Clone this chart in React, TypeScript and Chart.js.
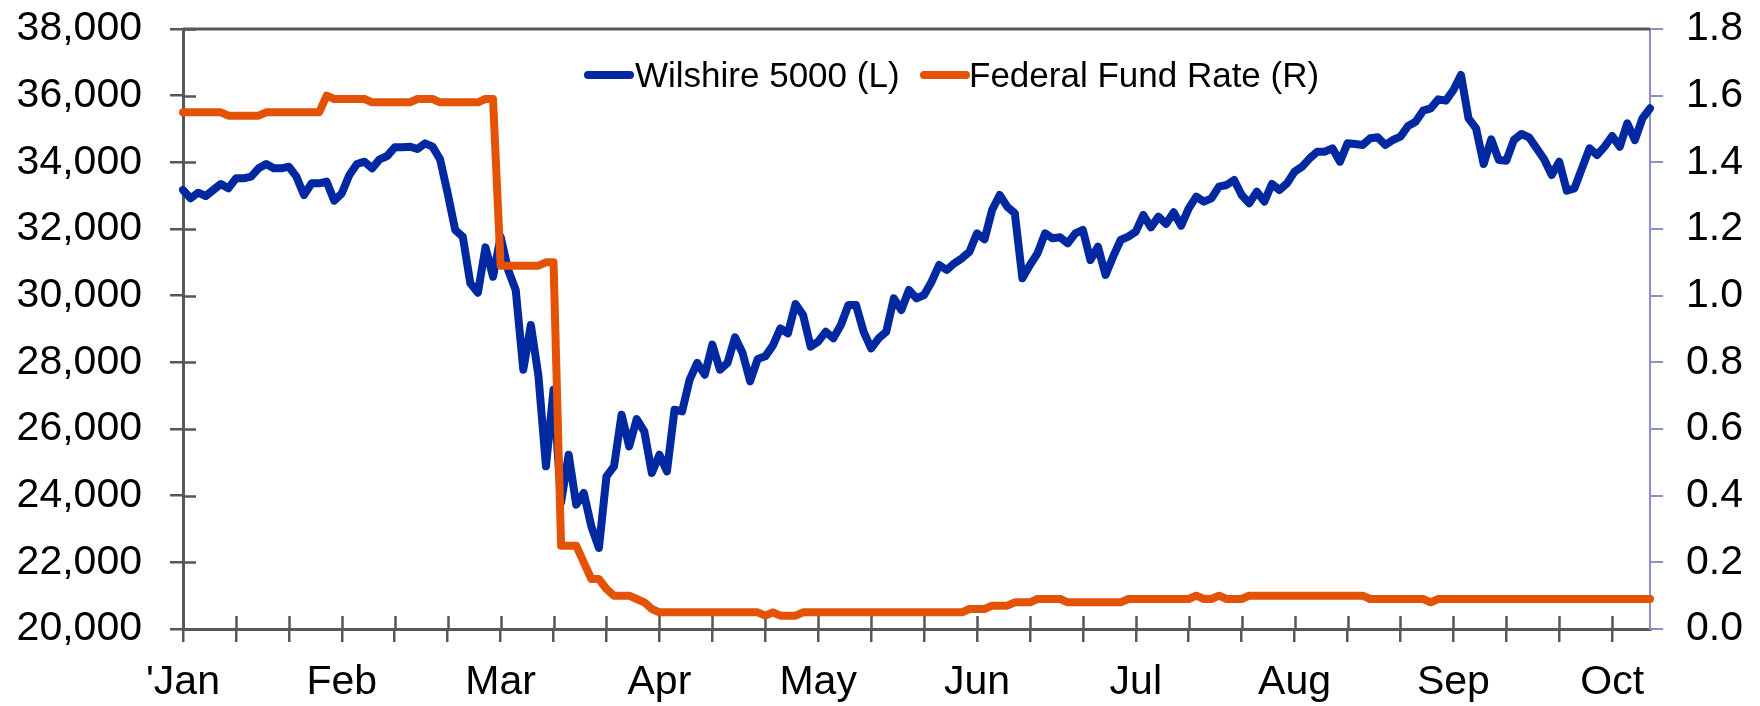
import React, { useEffect, useRef } from 'react';
import { Chart, registerables } from 'chart.js';

Chart.register(...registerables);

// Month labels shown every 21 trading days
const monthLabels = ["'Jan", 'Feb', 'Mar', 'Apr', 'May', 'Jun', 'Jul', 'Aug', 'Sep', 'Oct'];

// Wilshire 5000 (left axis), one value per trading day, Jan 2 .. Oct 9
const wilshire = [
  33170, 32920, 33090, 32990, 33170, 33350, 33220, 33520, 33520, 33570,
  33820, 33950, 33820, 33820, 33870, 33570, 33020, 33370, 33370, 33420,
  32850, 33070, 33620, 33950, 34020, 33820, 34090, 34190, 34450, 34450,
  34470, 34400, 34570, 34470, 34090, 33070, 31970, 31770, 30370, 30090,
  31450, 30570, 31770, 30770, 30170, 27780, 29120, 27600, 24880, 27180,
  23800, 25230, 23730, 24080, 23080, 22430, 24580, 24880, 26430, 25480,
  26300, 25930, 24680, 25230, 24730, 26580, 26530, 27480, 27980, 27630,
  28530, 27780, 27980, 28750, 28280, 27430, 28100, 28180, 28500, 29020,
  28870, 29750, 29420, 28470, 28620, 28920, 28720, 29120, 29720, 29720,
  28920, 28420, 28720, 28920, 29920, 29570, 30170, 29920, 30020, 30420,
  30920, 30770, 30970, 31120, 31320, 31870, 31690, 32570, 33020, 32670,
  32470, 30520, 30920, 31270, 31870, 31720, 31750, 31570, 31870, 31970,
  31070, 31470, 30620, 31170, 31670, 31770, 31920, 32420, 32050, 32370,
  32150, 32500, 32100, 32620, 32970, 32820, 32920, 33270, 33320, 33470,
  33020, 32770, 33120, 32820, 33350, 33170, 33370, 33720, 33870, 34120,
  34320, 34320, 34420, 34020, 34570, 34550, 34520, 34720, 34750, 34520,
  34670, 34770, 35090, 35220, 35550, 35620, 35890, 35850, 36170, 36620,
  35320, 35020, 33950, 34690, 34070, 34050, 34670, 34850, 34750, 34420,
  34090, 33620, 34020, 33150, 33220, 33820, 34420, 34220, 34470, 34790,
  34470, 35170, 34670, 35320, 35620,
];

// Federal Fund Rate (right axis), same trading days
const fedFundRate = [
  1.55, 1.55, 1.55, 1.55, 1.55, 1.55, 1.54, 1.54, 1.54, 1.54,
  1.54, 1.55, 1.55, 1.55, 1.55, 1.55, 1.55, 1.55, 1.55, 1.60,
  1.59, 1.59, 1.59, 1.59, 1.59, 1.58, 1.58, 1.58, 1.58, 1.58,
  1.58, 1.59, 1.59, 1.59, 1.58, 1.58, 1.58, 1.58, 1.58, 1.58,
  1.59, 1.59, 1.09, 1.09, 1.09, 1.09, 1.09, 1.09, 1.10, 1.10,
  0.25, 0.25, 0.25, 0.20, 0.15, 0.15, 0.12, 0.10, 0.10, 0.10,
  0.09, 0.08, 0.06, 0.05, 0.05, 0.05, 0.05, 0.05, 0.05, 0.05,
  0.05, 0.05, 0.05, 0.05, 0.05, 0.05, 0.05, 0.04, 0.05, 0.04,
  0.04, 0.04, 0.05, 0.05, 0.05, 0.05, 0.05, 0.05, 0.05, 0.05,
  0.05, 0.05, 0.05, 0.05, 0.05, 0.05, 0.05, 0.05, 0.05, 0.05,
  0.05, 0.05, 0.05, 0.05, 0.06, 0.06, 0.06, 0.07, 0.07, 0.07,
  0.08, 0.08, 0.08, 0.09, 0.09, 0.09, 0.09, 0.08, 0.08, 0.08,
  0.08, 0.08, 0.08, 0.08, 0.08, 0.09, 0.09, 0.09, 0.09, 0.09,
  0.09, 0.09, 0.09, 0.09, 0.10, 0.09, 0.09, 0.10, 0.09, 0.09,
  0.09, 0.10, 0.10, 0.10, 0.10, 0.10, 0.10, 0.10, 0.10, 0.10,
  0.10, 0.10, 0.10, 0.10, 0.10, 0.10, 0.10, 0.09, 0.09, 0.09,
  0.09, 0.09, 0.09, 0.09, 0.09, 0.08, 0.09, 0.09, 0.09, 0.09,
  0.09, 0.09, 0.09, 0.09, 0.09, 0.09, 0.09, 0.09, 0.09, 0.09,
  0.09, 0.09, 0.09, 0.09, 0.09, 0.09, 0.09, 0.09, 0.09, 0.09,
  0.09, 0.09, 0.09, 0.09, 0.09,
];

const seriesNames = ['Wilshire 5000 (L)', 'Federal Fund Rate (R)'];
const leftAxis = { min: 20000, max: 38000, step: 2000 };
const rightAxis = { min: 0, max: 1.8, step: 0.2 };

const BLUE = '#0029A1';
const ORANGE = '#E35205';
const AXIS = '#54585C';
const RIGHT_AXIS = '#8C8EC6';
const FONT = "'Liberation Sans', Arial, sans-serif";
const LINE_W = 8;

const TICK_EVERY = 7;
const LABEL_EVERY = 21;

const categories = wilshire.map((_, i) =>
  i % LABEL_EVERY === 0 && monthLabels[i / LABEL_EVERY] ? monthLabels[i / LABEL_EVERY] : ''
);

const axisDecor = {
  id: 'axisDecor',
  beforeDatasetsDraw(chart: any) {
    const { ctx, chartArea, scales } = chart;
    const x = scales.x;
    const y = scales.y;
    ctx.save();
    ctx.strokeStyle = AXIS;
    ctx.lineWidth = 2.5;
    ctx.beginPath();
    x.ticks.forEach((_t: any, i: number) => {
      if (i % TICK_EVERY === 0) {
        const px = Math.round(x.getPixelForTick(i)) + 0.5;
        ctx.moveTo(px, chartArea.bottom);
        ctx.lineTo(px, chartArea.bottom - 13);
      }
    });
    y.ticks.forEach((_t: any, i: number) => {
      const py = Math.round(y.getPixelForTick(i)) + 0.5;
      ctx.moveTo(chartArea.left, py);
      ctx.lineTo(chartArea.left + 13, py);
    });
    ctx.stroke();
    ctx.lineWidth = 3;
    ctx.beginPath();
    ctx.moveTo(chartArea.left, chartArea.top);
    ctx.lineTo(chartArea.right, chartArea.top);
    ctx.stroke();
    ctx.restore();
  },
};

export default function App() {
  const canvasRef = useRef<HTMLCanvasElement | null>(null);

  useEffect(() => {
    if (!canvasRef.current) return;
    const chart = new Chart(canvasRef.current, {
      type: 'line',
      data: {
        labels: categories,
        datasets: [
          {
            label: seriesNames[1],
            data: fedFundRate,
            yAxisID: 'y2',
            borderColor: ORANGE,
            backgroundColor: ORANGE,
            borderWidth: LINE_W,
          },
          {
            label: seriesNames[0],
            data: wilshire,
            yAxisID: 'y',
            borderColor: BLUE,
            backgroundColor: BLUE,
            borderWidth: LINE_W,
          },
        ],
      },
      options: {
        responsive: false,
        animation: false,
        layout: { padding: { top: 29, left: 0, right: 0, bottom: 0 } },
        plugins: { legend: { display: false }, tooltip: { enabled: false } },
        elements: {
          point: { radius: 0, hoverRadius: 0 },
          line: { tension: 0, borderJoinStyle: 'round', borderCapStyle: 'round' },
        },
        scales: {
          x: {
            type: 'category',
            offset: false,
            afterFit: (s: any) => {
              s.height = 77;
              s.paddingLeft = 0;
              s.paddingRight = 0;
            },
            grid: {
              display: true,
              drawOnChartArea: false,
              drawTicks: true,
              tickLength: 13,
              lineWidth: 2.5,
              color: (ctx: any) => (ctx.index % TICK_EVERY === 0 ? AXIS : 'rgba(0,0,0,0)'),
            },
            border: { display: true, color: AXIS, width: 3 },
            ticks: {
              autoSkip: false,
              maxRotation: 0,
              minRotation: 0,
              padding: 16,
              color: '#000',
              font: { family: FONT, size: 41 },
            },
          },
          y: {
            position: 'left',
            min: leftAxis.min,
            max: leftAxis.max,
            afterFit: (s: any) => {
              s.width = 183;
              s.paddingTop = 0;
              s.paddingBottom = 0;
            },
            grid: {
              display: true,
              drawOnChartArea: false,
              drawTicks: true,
              tickLength: 13,
              lineWidth: 2.5,
              color: AXIS,
            },
            border: { display: true, color: AXIS, width: 3 },
            ticks: {
              stepSize: leftAxis.step,
              padding: 28,
              color: '#000',
              font: { family: FONT, size: 41 },
              callback: (v: any) => Number(v).toLocaleString('en-US'),
            },
          },
          y2: {
            position: 'right',
            min: rightAxis.min,
            max: rightAxis.max,
            afterFit: (s: any) => {
              s.width = 110;
              s.paddingTop = 0;
              s.paddingBottom = 0;
            },
            grid: {
              display: true,
              drawOnChartArea: false,
              drawTicks: true,
              tickLength: 13,
              lineWidth: 2,
              color: RIGHT_AXIS,
            },
            border: { display: true, color: RIGHT_AXIS, width: 2 },
            ticks: {
              stepSize: rightAxis.step,
              padding: 23,
              color: '#000',
              font: { family: FONT, size: 41 },
              callback: (v: any) => Number(v).toFixed(1),
            },
          },
        },
      },
      plugins: [axisDecor],
    } as any);
    return () => chart.destroy();
  }, []);

  const legendText: React.CSSProperties = {
    position: 'absolute',
    top: 57,
    fontFamily: FONT,
    fontSize: 35,
    lineHeight: '35px',
    color: '#000',
    whiteSpace: 'nowrap',
  };
  const legendLine = (color: string): React.CSSProperties => ({
    position: 'absolute',
    top: 71,
    width: 50,
    height: LINE_W,
    borderRadius: LINE_W / 2,
    background: color,
  });

  return (
    <div
      style={{
        position: 'fixed',
        left: 0,
        top: 0,
        width: 1760,
        height: 706,
        background: '#fff',
        overflow: 'hidden',
      }}
    >
      <canvas ref={canvasRef} width={1760} height={706} style={{ display: 'block' }} />
      <div style={{ ...legendLine(BLUE), left: 584 }} />
      <div style={{ ...legendText, left: 635 }}>{seriesNames[0]}</div>
      <div style={{ ...legendLine(ORANGE), left: 920 }} />
      <div style={{ ...legendText, left: 969 }}>{seriesNames[1]}</div>
    </div>
  );
}
